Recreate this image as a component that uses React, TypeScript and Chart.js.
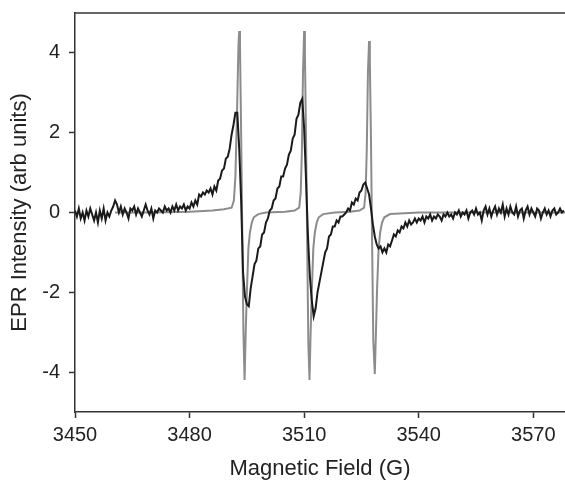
import React, { useEffect, useRef } from "react";
import { Chart, registerables } from "chart.js";

Chart.register(...registerables);

// Field range (G) and ticks
const X_MIN = 3450;
const X_MAX = 3578.3;
const X_TICKS = [3450, 3480, 3510, 3540, 3570];
const Y_MIN = -5;
const Y_MAX = 5;
const Y_TICKS = [-4, -2, 0, 2, 4];

// Experimental (black) spectrum: sampled every 0.5 G starting at 3450 G
const BLACK_START = 3450;
const BLACK_STEP = 0.5;
const BLACK_Y = [
  0.05, -0.1, 0.1, -0.15, 0.0, -0.2, 0.05, -0.1, 0.1, -0.05,
  -0.2, 0.0, -0.25, 0.05, -0.15, 0.1, -0.2, 0.0, -0.1, 0.05,
  0.15, 0.3, 0.2, 0.0, 0.15, -0.05, 0.1, 0.0, -0.15, 0.1,
  0.05, 0.15, -0.05, 0.1, 0.0, -0.1, 0.05, 0.2, 0.05, -0.05,
  0.1, -0.15, 0.05, 0.0, 0.1, 0.05, 0.0, 0.15, 0.05, 0.1,
  0.0, 0.15, 0.05, 0.2, 0.05, 0.15, 0.1, 0.2, 0.05, 0.15,
  0.1, 0.25, 0.15, 0.3, 0.2, 0.45, 0.4, 0.5, 0.45, 0.55,
  0.5, 0.6, 0.45, 0.65, 0.55, 0.8, 0.85, 1.05, 1.1, 1.35,
  1.4, 1.6, 1.95, 2.2, 2.5, 2.5, 1.6, 0.3, -1.5, -2.1,
  -2.3, -2.35, -1.9, -1.6, -1.3, -1.2, -0.9, -0.85, -0.55, -0.5,
  -0.25, -0.15, 0.05, 0.1, 0.3, 0.35, 0.6, 0.65, 0.9, 0.9,
  1.1, 1.2, 1.45, 1.55, 1.85, 1.95, 2.35, 2.45, 2.75, 2.85,
  2.1, 0.8, -0.6, -1.6, -2.2, -2.6, -2.4, -2.0, -1.75, -1.5,
  -1.25, -1.0, -0.9, -0.6, -0.55, -0.35, -0.35, -0.2, -0.25, -0.1,
  -0.1, -0.05, 0.0, 0.1, 0.05, 0.25, 0.2, 0.35, 0.3, 0.5,
  0.55, 0.7, 0.75, 0.6, 0.45, 0.1, -0.3, -0.6, -0.8, -0.9,
  -0.85, -1.0, -0.9, -1.0, -0.8, -0.85, -0.7, -0.55, -0.6, -0.45,
  -0.5, -0.35, -0.4, -0.25, -0.35, -0.2, -0.3, -0.25, -0.15, -0.25,
  -0.15, -0.2, -0.1, -0.25, -0.1, -0.15, -0.05, -0.2, -0.1, -0.15,
  -0.05, -0.1, -0.2, -0.05, -0.1, 0.0, -0.1, -0.05, -0.15, 0.0,
  -0.05, 0.05, -0.1, 0.0, -0.05, 0.05, -0.15, 0.0, 0.05, -0.05,
  0.1, -0.05, 0.0, -0.2, 0.05, 0.15, -0.05, 0.1, -0.1, 0.05,
  0.15, -0.05, 0.1, 0.0, 0.2, -0.1, 0.1, -0.05, 0.15, 0.0,
  -0.05, 0.15, -0.1, 0.05, 0.1, -0.15, 0.05, 0.15, -0.05, 0.1,
  0.0, -0.1, 0.1, 0.05, -0.15, 0.0, 0.1, -0.05, 0.05, -0.1,
  0.05, 0.1, -0.05, 0.0, 0.1, 0.0, 0.05,
];

// Simulated (gray) spectrum: field positions and intensities
const GRAY_X = [
  3460.5, 3470, 3480, 3486, 3489, 3491, 3491.6, 3492.0, 3492.4, 3492.8,
  3493.0, 3493.2, 3493.5, 3493.8, 3494.1, 3494.4, 3494.7, 3495.0, 3495.4, 3495.8,
  3496.3, 3496.8, 3498, 3500, 3505, 3507.5, 3508.7, 3509.1, 3509.4, 3509.7,
  3510.0, 3510.2, 3510.5, 3510.8, 3511.1, 3511.4, 3511.7, 3512.0, 3512.4, 3512.8,
  3513.3, 3513.8, 3515, 3518, 3522, 3524.5, 3525.7, 3526.1, 3526.4, 3526.7,
  3527.0, 3527.2, 3527.5, 3527.8, 3528.1, 3528.5, 3528.8, 3529.1, 3529.5, 3529.9,
  3530.4, 3531.0, 3532.5, 3540, 3560, 3578.3,
];
const GRAY_Y = [
  0.0, 0.0, 0.02, 0.05, 0.08, 0.12, 0.3, 0.9, 2.4, 4.2,
  4.55, 4.2, 2.0, -0.5, -3.0, -4.2, -3.0, -2.0, -0.9, -0.5,
  -0.25, -0.12, -0.04, 0.0, 0.02, 0.05, 0.12, 0.5, 1.5, 3.5,
  4.55, 4.0, 1.8, -0.8, -3.3, -4.2, -3.0, -2.0, -0.9, -0.5,
  -0.25, -0.12, -0.04, 0.0, 0.02, 0.05, 0.12, 0.5, 1.6, 3.5,
  4.3, 3.8, 1.8, -0.8, -3.2, -4.05, -3.0, -1.9, -0.9, -0.5,
  -0.25, -0.12, -0.04, 0.0, 0.0, 0.0,
];

const AXIS_COLOR = "#333333";
const TEXT_COLOR = "#222222";
const FONT = "'Liberation Sans', Arial, sans-serif";

export default function App() {
  const canvasRef = useRef<HTMLCanvasElement | null>(null);

  useEffect(() => {
    const canvas = canvasRef.current;
    if (!canvas) return;

    const blackData = BLACK_Y.map((y, i) => ({ x: BLACK_START + i * BLACK_STEP, y }));
    const grayData = GRAY_X.map((x, i) => ({ x, y: GRAY_Y[i] }));

    const frame = {
      id: "frameTop",
      afterDraw(chart: any) {
        const { ctx, chartArea } = chart;
        ctx.save();
        ctx.strokeStyle = AXIS_COLOR;
        ctx.lineWidth = 1.5;
        ctx.beginPath();
        ctx.moveTo(chartArea.left, chartArea.top);
        ctx.lineTo(chartArea.right, chartArea.top);
        ctx.stroke();
        ctx.restore();
      },
    };

    const chart = new Chart(canvas, {
      type: "line",
      data: {
        datasets: [
          {
            label: "Experiment",
            data: blackData,
            borderColor: "#1a1a1a",
            borderWidth: 2,
            pointRadius: 0,
            tension: 0,
            fill: false,
          },
          {
            label: "Simulation",
            data: grayData,
            borderColor: "#8c8c8c",
            borderWidth: 2,
            pointRadius: 0,
            tension: 0,
            fill: false,
          },
        ],
      },
      options: {
        animation: false,
        responsive: false,
        maintainAspectRatio: false,
        layout: { padding: { top: 13, left: 0, right: 0, bottom: 0 } },
        plugins: {
          legend: { display: false },
          tooltip: { enabled: false },
        },
        scales: {
          x: {
            type: "linear",
            min: X_MIN,
            max: X_MAX,
            afterBuildTicks: (scale: any) => {
              scale.ticks = X_TICKS.map((v) => ({ value: v }));
            },
            afterFit: (scale: any) => {
              scale.height = 73;
              scale.paddingLeft = 0;
              scale.paddingRight = 0;
            },
            grid: {
              drawOnChartArea: false,
              drawTicks: true,
              tickLength: 6,
              tickColor: AXIS_COLOR,
              tickWidth: 1.5,
            },
            border: { display: true, color: AXIS_COLOR, width: 1.5 },
            ticks: {
              color: TEXT_COLOR,
              font: { family: FONT, size: 20 },
              padding: 5,
              maxRotation: 0,
              callback: (v: any) => String(v),
            },
            title: {
              display: true,
              text: "Magnetic Field (G)",
              color: TEXT_COLOR,
              font: { family: FONT, size: 22 },
              padding: { top: 0, bottom: 3 },
            },
          },
          y: {
            type: "linear",
            min: Y_MIN,
            max: Y_MAX,
            afterBuildTicks: (scale: any) => {
              scale.ticks = Y_TICKS.map((v) => ({ value: v }));
            },
            afterFit: (scale: any) => {
              scale.width = 75;
              scale.paddingTop = 0;
              scale.paddingBottom = 0;
            },
            grid: {
              drawOnChartArea: false,
              drawTicks: true,
              tickLength: 6,
              tickColor: AXIS_COLOR,
              tickWidth: 1.5,
            },
            border: { display: true, color: AXIS_COLOR, width: 1.5 },
            ticks: {
              color: TEXT_COLOR,
              font: { family: FONT, size: 20 },
              padding: 9,
              callback: (v: any) => String(v),
            },
            title: {
              display: true,
              text: "EPR Intensity (arb units)",
              color: TEXT_COLOR,
              font: { family: FONT, size: 22 },
              padding: { top: 7, bottom: 0 },
            },
          },
        },
      },
      plugins: [frame],
    });

    return () => {
      chart.destroy();
    };
  }, []);

  return (
    <div style={{ position: "absolute", left: 0, top: 0, width: 565, height: 485, background: "#ffffff" }}>
      <canvas ref={canvasRef} width={565} height={485} style={{ display: "block" }} />
    </div>
  );
}
